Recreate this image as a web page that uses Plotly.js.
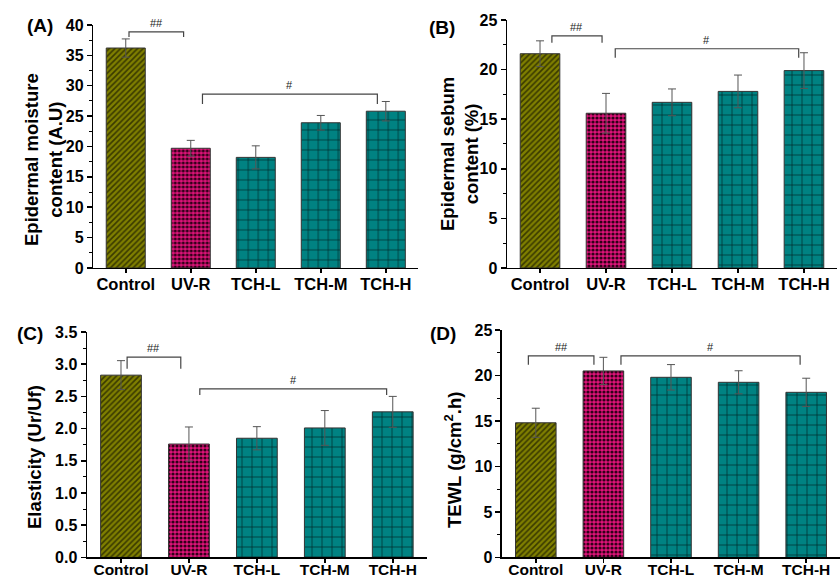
<!DOCTYPE html>
<html>
<head>
<meta charset="utf-8">
<script src="https://cdn.plot.ly/plotly-3.0.1.min.js"></script>
<style>html,body{margin:0;padding:0;background:#fff;}#chart{width:840px;height:580px;}</style>
</head>
<body>
<div id="chart"></div>
<script>
// ---- data ----
const categories = ['Control', 'UV-R', 'TCH-L', 'TCH-M', 'TCH-H'];
const moisture = [36.2, 19.7, 18.2, 23.9, 25.8];
const moistureErr = [1.5, 1.3, 1.9, 1.2, 1.6];
const sebum = [21.6, 15.6, 16.7, 17.8, 19.9];
const sebumErr = [1.3, 2.0, 1.35, 1.65, 1.8];
const elasticity = [2.83, 1.76, 1.85, 2.01, 2.26];
const elasticityErr = [0.225, 0.265, 0.18, 0.27, 0.24];
const tewl = [14.8, 20.5, 19.8, 19.25, 18.15];
const tewlErr = [1.6, 1.5, 1.4, 1.27, 1.55];

const panelLabels = ['(A)', '(B)', '(C)', '(D)'];
const yTitles = ['Epidermal moisture<br>content (A.U)', 'Epidermal sebum<br>content (%)', 'Elasticity (Ur/Uf)', 'TEWL (g/cm<sup>2</sup>.h)'];
const sigLabels = ['##', '#'];

// ---- styles (per category) ----
const baseColors = ['#7f7f00', '#e0137a', '#008282', '#008282', '#008282'];
const fgColors = ['#3a3a00', '#300018', '#002c2c', '#002c2c', '#002c2c'];
const shapes = ['/', '.', '+', '+', '+'];
const sizes = [4, 4, 10, 10, 10];
const solids = [0.4, 0.5, 0.14, 0.14, 0.14];

const series = [
  {y: moisture, e: moistureErr},
  {y: sebum, e: sebumErr},
  {y: elasticity, e: elasticityErr},
  {y: tewl, e: tewlErr}
];

const traces = [];
series.forEach((s, i) => {
  categories.forEach((c, k) => {
    traces.push({
      type: 'bar',
      x: [c],
      y: [s.y[k]],
      xaxis: i === 0 ? 'x' : 'x' + (i + 1),
      yaxis: i === 0 ? 'y' : 'y' + (i + 1),
      width: 0.6,
      marker: {
        color: baseColors[k],
        line: {color: '#333', width: 1},
        pattern: {shape: shapes[k], fgcolor: fgColors[k], bgcolor: baseColors[k], fgopacity: 1,
                  size: sizes[k], solidity: solids[k], fillmode: 'replace'}
      },
      error_y: {type: 'data', array: [s.e[k]], visible: true, color: '#555', thickness: 1, width: 4},
      hoverinfo: 'x+y',
      showlegend: false
    });
  });
});

// geometry
const xDomains = [[0.111, 0.498], [0.6036, 0.9964], [0.1036, 0.508], [0.5976, 1.0]];
const yDomains = [[0.538, 0.957], [0.538, 0.9655], [0.039, 0.4276], [0.039, 0.431]];
const yRanges = [[0, 40], [0, 25], [0, 3.5], [0, 25]];
const dticks = [5, 5, 0.5, 5];
const tickFormats = ['', '', '.1f', ''];
const titlePos = [[43, 160], [459, 154], [34, 457], [453, 460]];

// brackets: [from, to, yLine, yTickEnd] per panel, two each
const brackets = [
  [[0.05, 0.89, 38.85, 38.0], [1.18, 3.87, 28.6, 27.0]],
  [[0.18, 0.94, 23.4, 22.7], [1.14, 3.92, 22.1, 21.2]],
  [[0.09, 0.88, 3.11, 2.93], [1.16, 3.91, 2.617, 2.52]],
  [[-0.11, 0.86, 22.16, 21.18], [1.26, 3.91, 22.16, 21.18]]
];
const panelLabelPos = [[40, 26], [442, 27], [30, 333], [443, 333]];

const layout = {
  width: 840, height: 580,
  margin: {l: 0, r: 0, t: 0, b: 0},
  paper_bgcolor: '#ffffff', plot_bgcolor: 'rgba(0,0,0,0)',
  font: {family: 'Liberation Sans, Arial, sans-serif', color: '#000'},
  shapes: [], annotations: [],
  barmode: 'overlay'
};

for (let i = 0; i < 4; i++) {
  const xk = i === 0 ? 'xaxis' : 'xaxis' + (i + 1);
  const yk = i === 0 ? 'yaxis' : 'yaxis' + (i + 1);
  const xa = i === 0 ? 'x' : 'x' + (i + 1);
  const ya = i === 0 ? 'y' : 'y' + (i + 1);
  layout[xk] = {
    domain: xDomains[i], anchor: ya, type: 'category', range: [-0.5, 4.5],
    categoryorder: 'array', categoryarray: categories,
    showline: true, linecolor: '#000', linewidth: 1.5,
    ticks: 'outside', ticklen: 4, tickwidth: 1.5, tickcolor: '#000',
    ticklabelstandoff: i < 2 ? -3 : -6,
    tickfont: {size: i < 2 ? 16.5 : 15.5, family: 'Liberation Sans, Arial, sans-serif', weight: 'bold'},
    showgrid: false, zeroline: false, fixedrange: true
  };
  layout[yk] = {
    domain: yDomains[i], anchor: xa, range: yRanges[i], dtick: dticks[i], tick0: 0,
    tickformat: tickFormats[i],
    showline: true, linecolor: '#000', linewidth: 1.5,
    ticks: 'outside', ticklen: 5, tickwidth: 1.5, tickcolor: '#000',
    minor: {ticks: 'outside', ticklen: 3, tickwidth: 1, tickcolor: '#000', dtick: dticks[i] / 2, showgrid: false},
    tickfont: {size: 16, family: 'Liberation Sans, Arial, sans-serif', weight: 'bold'},
    showgrid: false, zeroline: false, fixedrange: true, automargin: false
  };
  // y-axis title
  layout.annotations.push({xref: 'paper', yref: 'paper',
    x: titlePos[i][0] / 840, y: 1 - titlePos[i][1] / 580,
    text: yTitles[i], showarrow: false, textangle: -90,
    xanchor: 'center', yanchor: 'middle',
    font: {size: 18.5, weight: 'bold'}});
  // brackets
  brackets[i].forEach((b, j) => {
    const [x0, x1, yl, yt] = b;
    layout.shapes.push({type: 'path', xref: xa, yref: ya,
      path: `M ${x0},${yt} L ${x0},${yl} L ${x1},${yl} L ${x1},${yt}`,
      line: {color: '#444', width: 1.2}});
    layout.annotations.push({xref: xa, yref: ya, x: (x0 + x1) / 2, y: yl, yshift: 1,
      text: sigLabels[j], showarrow: false, yanchor: 'bottom',
      font: {size: 11, color: '#222', family: 'Liberation Sans, Arial, sans-serif'}});
  });
  layout.annotations.push({xref: 'paper', yref: 'paper',
    x: panelLabelPos[i][0] / 840, y: 1 - panelLabelPos[i][1] / 580,
    text: panelLabels[i], showarrow: false, xanchor: 'center', yanchor: 'middle',
    font: {size: 19, weight: 'bold'}});
}

Plotly.newPlot('chart', traces, layout, {staticPlot: true, displayModeBar: false});
</script>
</body>
</html>
